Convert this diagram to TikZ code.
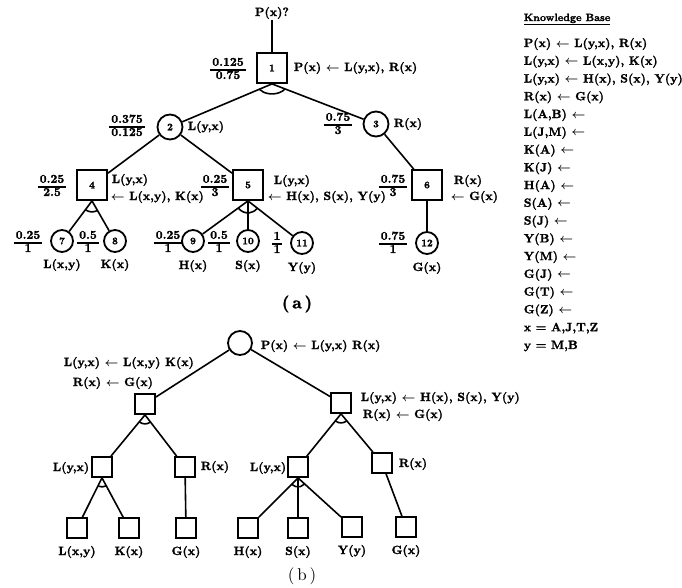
\documentclass[tikz,border=0pt]{standalone}
\usepackage{amsmath}
\usepackage{fontspec}
\setmainfont{lmroman10-regular.otf}[BoldFont=lmroman10-bold.otf, BoldFeatures={FakeBold=1.6}]
\usetikzlibrary{calc}
\newcommand{\myfrac}[2]{{\renewcommand{\arraystretch}{0.85}\begin{tabular}{@{\,}c@{\,}}#1\\\noalign{\hrule height 1.3pt}#2\end{tabular}}}
\newcommand{\larr}{$\leftarrow$}
\begin{document}
\begin{tikzpicture}[x=1pt,y=-1pt,line width=1.6pt,
 txt/.style={font=\fontsize{12}{14}\selectfont\bfseries\boldmath, inner sep=0pt},
 num/.style={font=\fontsize{10}{11}\selectfont\bfseries},
 abox/.style={draw, line width=1.8pt, minimum size=30pt, inner sep=0pt, num},
 acirc/.style={draw, circle, line width=1.8pt, minimum size=25pt, inner sep=0pt, num},
 lcirc/.style={draw, circle, line width=1.8pt, minimum size=22pt, inner sep=0pt, num},
 bbox/.style={draw, line width=1.8pt, minimum size=20pt, inner sep=0pt},
 bcirc/.style={draw, circle, line width=1.8pt, minimum size=24pt, inner sep=0pt}]
\useasboundingbox (0,0) rectangle (682,587);
% ---------- (a) ----------
\node[txt] (q) at (272,13) {P(x)?};
\node[abox] (n1) at (272,68) {1};
\node[txt] (f1) at (228,70) {\myfrac{0.125}{0.75}};
\node[txt,anchor=west] (l1) at (293,68) {P(x) \larr{} L(y,x), R(x)};
\node[acirc] (n2) at (170,127) {2};
\node[txt] (f2) at (127,127) {\myfrac{0.375}{0.125}};
\node[txt,anchor=west] (l2) at (187,127) {L(y,x)};
\node[acirc] (n3) at (376,124) {3};
\node[txt] (f3) at (338,125) {\myfrac{0.75}{3}};
\node[txt,anchor=west] (l3) at (393,124) {R(x)};
\node[abox] (n4) at (92,185) {4};
\node[txt] (f4) at (52,187) {\myfrac{0.25}{2.5}};
\node[txt,anchor=west] (l4a) at (111,180) {L(y,x)};
\node[txt,anchor=west] (l4b) at (110,197) {\larr{} L(x,y), K(x)};
\node[abox] (n5) at (248,185) {5};
\node[txt] (f5) at (215,187) {\myfrac{0.25}{3}};
\node[txt,anchor=west] (l5a) at (273,181) {L(y,x)};
\node[txt,anchor=west] (l5b) at (267,197) {\larr{} H(x), S(x), Y(y)};
\node[abox] (n6) at (427,185) {6};
\node[txt] (f6) at (393,187) {\myfrac{0.75}{3}};
\node[txt,anchor=west] (l6a) at (453,181) {R(x)};
\node[txt,anchor=west] (l6b) at (450,197) {\larr{} G(x)};
\node[lcirc] (n7) at (62,241) {7};
\node[lcirc] (n8) at (115,241) {8};
\node[lcirc] (n9) at (193,241) {9};
\node[lcirc] (n10) at (248,241) {10};
\node[lcirc] (n11) at (302,243) {11};
\node[lcirc] (n12) at (427,243) {12};
\node[txt] (f7) at (28,243) {\myfrac{0.25}{1}};
\node[txt] (f8) at (88,243) {\myfrac{0.5}{1}};
\node[txt] (f9) at (168,243) {\myfrac{0.25}{1}};
\node[txt] (f10) at (219,243) {\myfrac{0.5}{1}};
\node[txt] (f11) at (277,244) {\myfrac{1}{1}};
\node[txt] (f12) at (393,244) {\myfrac{0.75}{1}};
\node[txt] (g7) at (62,265) {L(x,y)};
\node[txt] (g8) at (115,265) {K(x)};
\node[txt] (g9) at (193,266) {H(x)};
\node[txt] (g10) at (248,266) {S(x)};
\node[txt] (g11) at (302,268) {Y(y)};
\node[txt] (g12) at (427,268) {G(x)};
\node[font=\fontsize{17}{18}\selectfont\bfseries] (cap1) at (297,304) {(\,a\,)};
\draw (q) -- (n1);
\draw (n1.south) -- (n2);
\draw (n1.south) -- (n3);
\draw (n1.south) ++(212:15pt and 10pt) arc[start angle=212, end angle=330, x radius=15pt, y radius=10pt];
\draw (n2) -- (n4);
\draw (n2) -- (n5);
\draw (n3) -- (n6);
\draw (n4.south) -- (n7);
\draw (n4.south) -- (n8);
\draw (n4.south) ++(234:11pt) arc[start angle=234, end angle=299, radius=11pt];
\draw (n5.south) -- (n9);
\draw (n5.south) -- (n10);
\draw (n5.south) -- (n11);
\draw (n5.south) ++(217:12pt) arc[start angle=217, end angle=322, radius=12pt];
\draw (n6) -- (n12);
% ---------- knowledge base ----------
\node[font=\fontsize{10.5}{12}\selectfont\bfseries, inner sep=0pt, anchor=base west] (kbh) at (523,21) {\underline{Knowledge Base}};
\foreach \t [count=\i] in {{P(x) \larr{} L(y,x), R(x)},{L(y,x) \larr{} L(x,y), K(x)},{L(y,x) \larr{} H(x), S(x), Y(y)},{R(x) \larr{} G(x)},{L(A,B) \larr},{L(J,M) \larr},{K(A) \larr},{K(J) \larr},{H(A) \larr},{S(A) \larr},{S(J) \larr},{Y(B) \larr},{Y(M) \larr},{G(J) \larr},{G(T) \larr},{G(Z) \larr},{x = A,J,T,Z},{y = M,B}}
  \node[txt, anchor=base west] (kb\i) at (523,{47+(\i-1)*17.76}) {\t};
% ---------- (b) ----------
\node[bcirc] (t) at (240,343) {};
\node[txt,anchor=west] (tl) at (260,346) {P(x) \larr{} L(y,x) R(x)};
\node[bbox] (bl) at (145,404) {};
\node[txt,anchor=west] (bla) at (63,363) {L(y,x) \larr{} L(x,y) K(x)};
\node[txt,anchor=west] (blb) at (72,383) {R(x) \larr{} G(x)};
\node[bbox] (br) at (341,403) {};
\node[txt,anchor=west] (bra) at (360,398) {L(y,x) \larr{} H(x), S(x), Y(y)};
\node[txt,anchor=west] (brb) at (362,415) {R(x) \larr{} G(x)};
\node[bbox] (c1) at (102,467) {};
\node[txt,anchor=east] (c1l) at (90,468) {L(y,x)};
\node[bbox] (c2) at (185,467) {};
\node[txt,anchor=west] (c2l) at (200,467) {R(x)};
\node[bbox] (c3) at (298,467) {};
\node[txt,anchor=east] (c3l) at (287,468) {L(y,x)};
\node[bbox] (c4) at (382,463) {};
\node[txt,anchor=west] (c4l) at (398,464) {R(x)};
\node[bbox] (d1) at (77,528) {};
\node[bbox] (d2) at (129,528) {};
\node[bbox] (d3) at (186,528) {};
\node[bbox] (d4) at (248,528) {};
\node[bbox] (d5) at (298,528) {};
\node[bbox] (d6) at (352,527) {};
\node[bbox] (d7) at (406,527) {};
\node[txt] (e1) at (77,552) {L(x,y)};
\node[txt] (e2) at (129,552) {K(x)};
\node[txt] (e3) at (186,552) {G(x)};
\node[txt] (e4) at (248,552) {H(x)};
\node[txt] (e5) at (298,552) {S(x)};
\node[txt] (e6) at (352,551) {Y(y)};
\node[txt] (e7) at (406,551) {G(x)};
\node[font=\fontsize{17}{18}\selectfont] (cap2) at (302,576) {(\,b\,)};
\draw (t) -- (bl);
\draw (t) -- (br);
\draw (bl.south) -- (c1);
\draw (bl.south) -- (c2);
\draw (bl.south) ++(231:9pt) arc[start angle=231, end angle=307, radius=9pt];
\draw (br.south) -- (c3);
\draw (br.south) -- (c4);
\draw (br.south) ++(231:9pt) arc[start angle=231, end angle=309, radius=9pt];
\draw (c1.south) -- (d1);
\draw (c1.south) -- (d2);
\draw (c1.south) ++(244:9pt) arc[start angle=244, end angle=298, radius=9pt];
\draw (c2) -- (d3);
\draw (c3.south) -- (d4);
\draw (c3.south) -- (d5);
\draw (c3.south) -- (d6);
\draw (c3.south) ++(226:9pt) arc[start angle=226, end angle=317, radius=9pt];
\draw (c4) -- (d7);
\end{tikzpicture}
\end{document}
